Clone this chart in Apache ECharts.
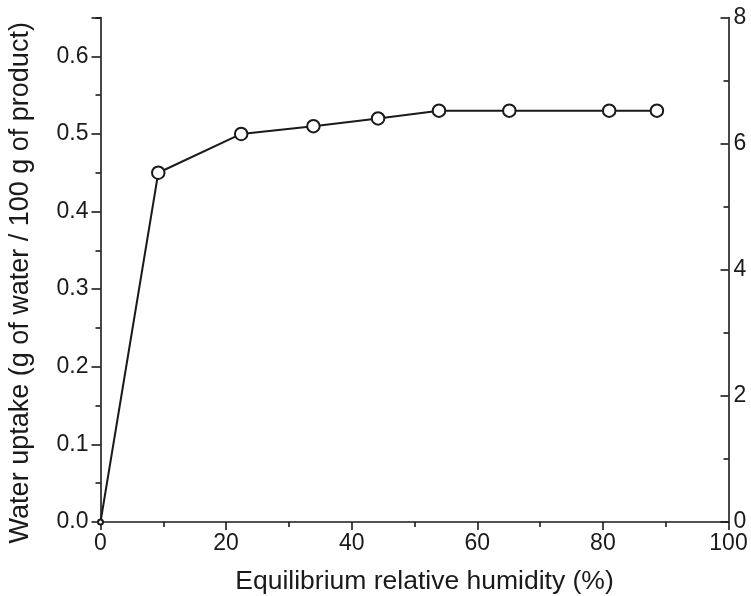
<!DOCTYPE html>
<html>
<head>
<meta charset="utf-8">
<script src="https://cdn.jsdelivr.net/npm/echarts@6/dist/echarts.min.js"></script>
<style>
html,body{margin:0;padding:0;background:#fff;}
#c{width:751px;height:596px;}
</style>
</head>
<body>
<div id="c"></div>
<script>
const humidity = [0, 9.2, 22.4, 33.9, 44.2, 53.9, 65.1, 81.0, 88.6];
const waterUptake = [0, 0.45, 0.50, 0.51, 0.52, 0.53, 0.53, 0.53, 0.53];
const xTitle = 'Equilibrium relative humidity (%)';
const yTitle = 'Water uptake (g of water / 100 g of product)';

const font = 'Liberation Sans, Arial, sans-serif';
const ink = '#1a1a1a';
const chart = echarts.init(document.getElementById('c'));
chart.setOption({
  animation: false,
  backgroundColor: '#fff',
  grid: {left: 100.5, right: 22.5, top: 17.5, bottom: 74, containLabel: false, outerBoundsMode: 'none'},
  xAxis: {
    type: 'value', min: 0, max: 100, interval: 20,
    name: xTitle, nameLocation: 'middle', nameGap: 46,
    nameTextStyle: {fontFamily: font, fontSize: 26.5, color: ink, padding: [0, 0, 0, 20]},
    axisLine: {show: true, onZero: false, lineStyle: {color: ink, width: 1.6}},
    axisTick: {show: true, length: 8, lineStyle: {color: ink, width: 1.6}},
    minorTick: {show: true, splitNumber: 2, length: 5, lineStyle: {color: ink, width: 1.6}},
    splitLine: {show: false},
    axisLabel: {fontFamily: font, fontSize: 23, color: ink, margin: 10}
  },
  yAxis: [{
    type: 'value', min: 0, max: 0.65, interval: 0.1, position: 'left',
    name: yTitle, nameLocation: 'middle', nameGap: 66, nameRotate: 90,
    nameTextStyle: {fontFamily: font, fontSize: 27, color: ink, padding: [0, 26, 0, 0]},
    axisLine: {show: true, onZero: false, lineStyle: {color: ink, width: 1.6}},
    axisTick: {show: true, length: 9, lineStyle: {color: ink, width: 1.6}},
    minorTick: {show: true, splitNumber: 2, length: 5, lineStyle: {color: ink, width: 1.6}},
    splitLine: {show: false},
    axisLabel: {fontFamily: font, fontSize: 23, color: ink, margin: 12, showMaxLabel: false,
      formatter: v => v.toFixed(1)}
  }, {
    type: 'value', min: 0, max: 8, interval: 2, position: 'right',
    axisLine: {show: true, onZero: false, lineStyle: {color: ink, width: 1.6}},
    axisTick: {show: true, inside: true, length: 8, lineStyle: {color: ink, width: 1.6}},
    minorTick: {show: true, splitNumber: 2, length: 5, lineStyle: {color: ink, width: 1.6}},
    splitLine: {show: false},
    axisLabel: {fontFamily: font, fontSize: 23, color: ink, margin: 5}
  }],
  series: [{
    type: 'line',
    yAxisIndex: 0,
    data: humidity.map((x, i) => [x, waterUptake[i]]),
    symbol: 'circle',
    symbolSize: (v, p) => p.dataIndex === 0 ? 5 : 12.5,
    showAllSymbol: true,
    clip: false,
    lineStyle: {color: ink, width: 2},
    itemStyle: {color: '#fff', borderColor: ink, borderWidth: 2},
    z: 3
  }]
});
</script>
</body>
</html>
